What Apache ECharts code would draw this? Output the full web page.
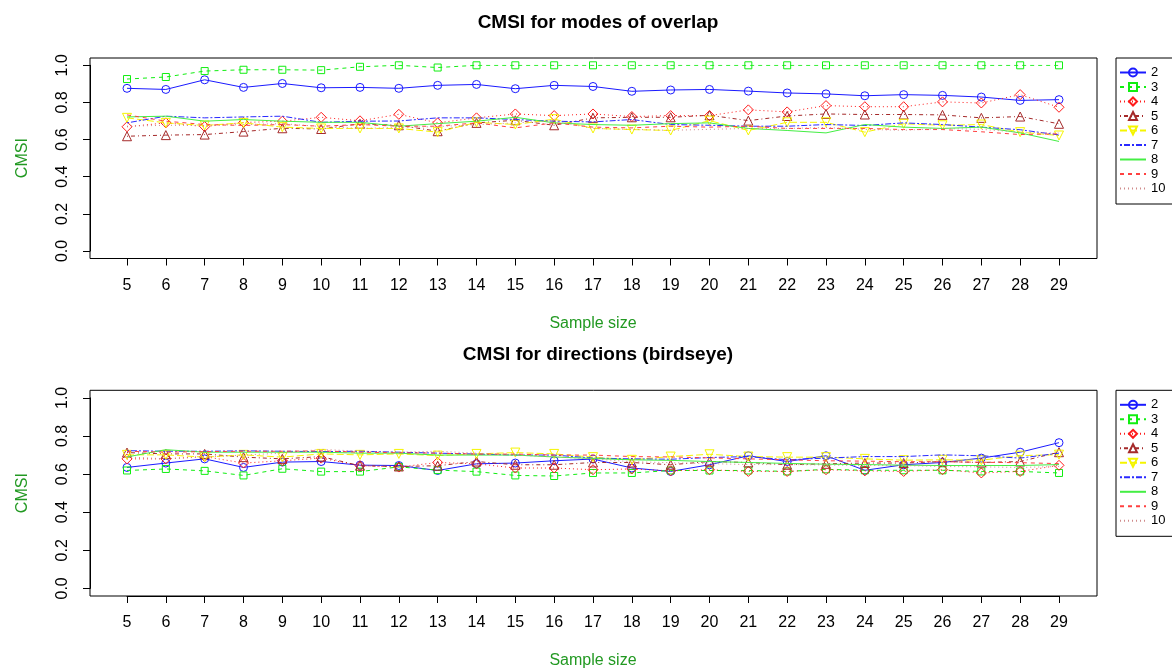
<!DOCTYPE html>
<html>
<head>
<meta charset="utf-8">
<title>CMSI</title>
<script src="https://cdn.jsdelivr.net/npm/echarts@6/dist/echarts.min.js"></script>
<style>
  html, body { margin: 0; padding: 0; background: #fff; }
  #chart { width: 1172px; height: 670px; }
</style>
</head>
<body>
<div id="chart"></div>
<script>
// sample sizes on the x axis
const sampleSizes = ['5', '6', '7', '8', '9', '10', '11', '12', '13', '14', '15', '16', '17',
    '18', '19', '20', '21', '22', '23', '24', '25', '26', '27', '28', '29'];
const seriesNames = ['2', '3', '4', '5', '6', '7', '8', '9', '10'];
const yTicks = [0, 0.2, 0.4, 0.6, 0.8, 1.0];

// CMSI for modes of overlap
const ovl2 = [0.876, 0.870, 0.922, 0.881, 0.902, 0.879, 0.881, 0.876, 0.892, 0.897, 0.874, 0.892, 0.886, 0.860, 0.867, 0.870, 0.861, 0.851, 0.846, 0.836, 0.842, 0.838, 0.829, 0.811, 0.815];
const ovl3 = [0.926, 0.937, 0.969, 0.976, 0.976, 0.974, 0.992, 1.0, 0.988, 1.0, 1.0, 1.0, 1.0, 1.0, 1.0, 1.0, 1.0, 1.0, 1.0, 1.0, 1.0, 1.0, 1.0, 1.0, 1.0];
const ovl4 = [0.669, 0.690, 0.670, 0.692, 0.699, 0.720, 0.701, 0.736, 0.690, 0.717, 0.738, 0.729, 0.738, 0.724, 0.729, 0.729, 0.760, 0.749, 0.783, 0.777, 0.777, 0.803, 0.797, 0.842, 0.774];
const ovl5 = [0.618, 0.624, 0.627, 0.643, 0.661, 0.657, 0.685, 0.677, 0.645, 0.690, 0.704, 0.677, 0.717, 0.720, 0.720, 0.731, 0.702, 0.727, 0.738, 0.735, 0.735, 0.733, 0.717, 0.724, 0.685];
const ovl6 = [0.717, 0.690, 0.676, 0.690, 0.667, 0.660, 0.660, 0.660, 0.640, 0.693, 0.681, 0.710, 0.660, 0.654, 0.649, 0.702, 0.649, 0.693, 0.693, 0.640, 0.685, 0.677, 0.681, 0.640, 0.622];
const ovl7 = [0.690, 0.726, 0.717, 0.722, 0.726, 0.693, 0.699, 0.700, 0.717, 0.717, 0.708, 0.699, 0.695, 0.708, 0.681, 0.677, 0.672, 0.672, 0.681, 0.676, 0.690, 0.681, 0.667, 0.653, 0.625];
const ovl8 = [0.722, 0.726, 0.699, 0.708, 0.699, 0.693, 0.693, 0.672, 0.686, 0.699, 0.720, 0.690, 0.681, 0.677, 0.686, 0.690, 0.660, 0.649, 0.636, 0.681, 0.667, 0.660, 0.667, 0.636, 0.590];
const ovl9 = [0.733, 0.699, 0.681, 0.676, 0.681, 0.672, 0.681, 0.672, 0.672, 0.690, 0.663, 0.690, 0.667, 0.663, 0.672, 0.667, 0.672, 0.660, 0.660, 0.660, 0.654, 0.654, 0.642, 0.627, 0.631];
const ovl10 = [0.672, 0.677, 0.676, 0.681, 0.686, 0.670, 0.660, 0.665, 0.670, 0.680, 0.690, 0.700, 0.660, 0.655, 0.650, 0.655, 0.660, 0.660, 0.665, 0.655, 0.650, 0.660, 0.655, 0.640, 0.635];

// CMSI for directions (birdseye)
const dir2 = [0.635, 0.658, 0.680, 0.635, 0.663, 0.666, 0.647, 0.645, 0.619, 0.654, 0.658, 0.670, 0.679, 0.632, 0.614, 0.649, 0.696, 0.666, 0.696, 0.620, 0.649, 0.661, 0.684, 0.715, 0.765];
const dir3 = [0.619, 0.627, 0.617, 0.593, 0.628, 0.613, 0.613, 0.638, 0.621, 0.613, 0.593, 0.590, 0.606, 0.606, 0.619, 0.619, 0.619, 0.614, 0.625, 0.620, 0.620, 0.620, 0.614, 0.614, 0.606];
const dir4 = [0.680, 0.680, 0.692, 0.658, 0.670, 0.684, 0.644, 0.637, 0.661, 0.654, 0.632, 0.632, 0.623, 0.627, 0.617, 0.623, 0.614, 0.614, 0.623, 0.617, 0.614, 0.623, 0.606, 0.614, 0.646];
const dir5 = [0.713, 0.706, 0.706, 0.689, 0.680, 0.692, 0.644, 0.640, 0.644, 0.666, 0.649, 0.649, 0.661, 0.661, 0.649, 0.666, 0.661, 0.649, 0.654, 0.658, 0.658, 0.666, 0.661, 0.666, 0.715];
const dir6 = [0.701, 0.701, 0.689, 0.701, 0.689, 0.706, 0.701, 0.706, 0.697, 0.706, 0.713, 0.706, 0.689, 0.675, 0.692, 0.704, 0.692, 0.689, 0.689, 0.680, 0.673, 0.675, 0.673, 0.697, 0.702];
const dir7 = [0.723, 0.720, 0.720, 0.722, 0.720, 0.718, 0.720, 0.715, 0.710, 0.705, 0.700, 0.700, 0.684, 0.680, 0.678, 0.687, 0.692, 0.675, 0.684, 0.692, 0.692, 0.701, 0.696, 0.684, 0.710];
const dir8 = [0.690, 0.728, 0.715, 0.715, 0.715, 0.715, 0.710, 0.710, 0.700, 0.700, 0.700, 0.690, 0.682, 0.675, 0.672, 0.666, 0.661, 0.656, 0.652, 0.650, 0.647, 0.645, 0.645, 0.645, 0.650];
const dir9 = [0.720, 0.715, 0.718, 0.720, 0.720, 0.722, 0.715, 0.712, 0.710, 0.705, 0.705, 0.700, 0.700, 0.692, 0.690, 0.685, 0.680, 0.675, 0.670, 0.668, 0.665, 0.665, 0.662, 0.660, 0.655];
const dir10 = [0.690, 0.680, 0.690, 0.700, 0.710, 0.730, 0.720, 0.715, 0.720, 0.710, 0.700, 0.690, 0.680, 0.665, 0.660, 0.655, 0.650, 0.650, 0.648, 0.645, 0.645, 0.640, 0.638, 0.635, 0.640];

const FONT = '"Liberation Sans", Arial, Helvetica, sans-serif';
const LABEL_GREEN = '#229922';
const CLEAR = 'rgba(255,255,255,0)';
const downTriangle = 'path://M0,0 L10,0 L5,8.66 Z';

// line look for each series (same order as seriesNames)
const styles = [
    { color: '#1a1aff', dash: 'solid', symbol: 'circle', size: 8 },
    { color: '#11ee11', dash: [4, 4], symbol: 'rect', size: 7 },
    { color: '#ff1a1a', dash: [1, 3], symbol: 'diamond', size: 10 },
    { color: '#a52a2a', dash: [1, 3, 4, 3], symbol: 'triangle', size: 9 },
    { color: '#f5f500', dash: [7, 3], symbol: downTriangle, size: 9 },
    { color: '#2a2aff', dash: [2, 2, 6, 2], symbol: 'none', size: 0 },
    { color: '#44ee44', dash: 'solid', symbol: 'none', size: 0 },
    { color: '#ff4040', dash: [4, 4], symbol: 'none', size: 0 },
    { color: '#d08a8a', dash: [1, 3], symbol: 'none', size: 0 }
];

const overlapData = [ovl2, ovl3, ovl4, ovl5, ovl6, ovl7, ovl8, ovl9, ovl10];
const directionData = [dir2, dir3, dir4, dir5, dir6, dir7, dir8, dir9, dir10];

// panel geometry: data area plus the surrounding box
const panels = [
    { title: 'CMSI for modes of overlap', top: 65.3, height: 185.7, boxTop: 58, boxHeight: 200.5, titleTop: 8 },
    { title: 'CMSI for directions (birdseye)', top: 397.9, height: 190.5, boxTop: 390.3, boxHeight: 205.7, titleTop: 340 }
];

function buildSeries(dataSets, axisIndex) {
    return dataSets.map((values, i) => {
        const st = styles[i];
        const hasSymbol = st.symbol !== 'none';
        return {
            name: seriesNames[i],
            type: 'line',
            xAxisIndex: axisIndex,
            yAxisIndex: axisIndex,
            data: values,
            symbol: st.symbol,
            symbolSize: st.size,
            showSymbol: hasSymbol,
            lineStyle: { color: st.color, width: 1, type: st.dash },
            itemStyle: { color: CLEAR, borderColor: hasSymbol ? st.color : CLEAR, borderWidth: hasSymbol ? 1 : 0 },
            emphasis: { disabled: true },
            z: 3 + i
        };
    });
}

const grids = [];
const xAxes = [];
const yAxes = [];
const titles = [];
const legends = [];

// grids 0,1: data areas (y axis shown, x axis hidden)
panels.forEach((p, k) => {
    grids.push({ left: 127, right: 113, top: p.top, height: p.height, show: false, outerBoundsMode: 'none' });
    xAxes.push({ type: 'category', gridIndex: k, data: sampleSizes, boundaryGap: false, show: false });
    yAxes.push({
        type: 'value', gridIndex: k, min: 0, max: 1, interval: 0.2, offset: 37,
        axisLine: { show: true, lineStyle: { color: '#000', width: 1 } },
        axisTick: { show: true, length: 7, lineStyle: { color: '#000' } },
        axisLabel: {
            rotate: 90, color: '#000', fontSize: 16, fontFamily: FONT, margin: 19,
            formatter: v => yTicks.some(t => Math.abs(t - v) < 1e-9) ? v.toFixed(1) : ''
        },
        splitLine: { show: false },
        name: 'CMSI', nameLocation: 'middle', nameRotate: 90, nameGap: 59,
        nameTextStyle: { color: LABEL_GREEN, fontSize: 16, fontFamily: FONT }
    });
    titles.push({
        text: p.title, left: 593, top: p.titleTop, textAlign: 'center',
        textStyle: { fontSize: 19, fontWeight: 'bold', color: '#000', fontFamily: FONT }
    });
    legends.push({
        data: seriesNames, orient: 'vertical', left: 1116, top: p.boxTop,
        padding: [8, 40, 9, 3], itemGap: 1.5, itemWidth: 26, itemHeight: 10,
        borderColor: '#000', borderWidth: 1, selectedMode: false,
        textStyle: { fontSize: 13, fontFamily: FONT, color: '#000', lineHeight: 13 }
    });
});

// grids 2,3: plot boxes (hidden axes only hold the grid)
panels.forEach((p, k) => {
    grids.push({
        left: 90, width: 1007, top: p.boxTop, height: p.boxHeight,
        show: true, borderColor: '#000', borderWidth: 1, backgroundColor: 'transparent',
        outerBoundsMode: 'none'
    });
    xAxes.push({ type: 'value', gridIndex: 2 + k, show: false });
    yAxes.push({ type: 'value', gridIndex: 2 + k, show: false });
});

// grids 4,5: x axes sitting on the box bottom edge
panels.forEach((p, k) => {
    grids.push({
        left: 127, right: 113, top: p.boxTop + p.boxHeight - 1, height: 1,
        show: false, outerBoundsMode: 'none'
    });
    xAxes.push({
        type: 'category', gridIndex: 4 + k, data: sampleSizes, boundaryGap: false,
        axisLine: { lineStyle: { color: '#000', width: 1 } },
        axisTick: { length: 7, lineStyle: { color: '#000' } },
        axisLabel: { interval: 0, color: '#000', fontSize: 16, fontFamily: FONT, margin: 19 },
        splitLine: { show: false },
        name: 'Sample size', nameLocation: 'middle', nameGap: 57,
        nameTextStyle: { color: LABEL_GREEN, fontSize: 16, fontFamily: FONT }
    });
    yAxes.push({ type: 'value', gridIndex: 4 + k, show: false });
});

const chart = echarts.init(document.getElementById('chart'), null, { renderer: 'canvas' });
chart.setOption({
    backgroundColor: '#fff',
    animation: false,
    title: titles,
    legend: legends,
    grid: grids,
    xAxis: xAxes,
    yAxis: yAxes,
    series: buildSeries(overlapData, 0).concat(buildSeries(directionData, 1))
});
</script>
</body>
</html>
